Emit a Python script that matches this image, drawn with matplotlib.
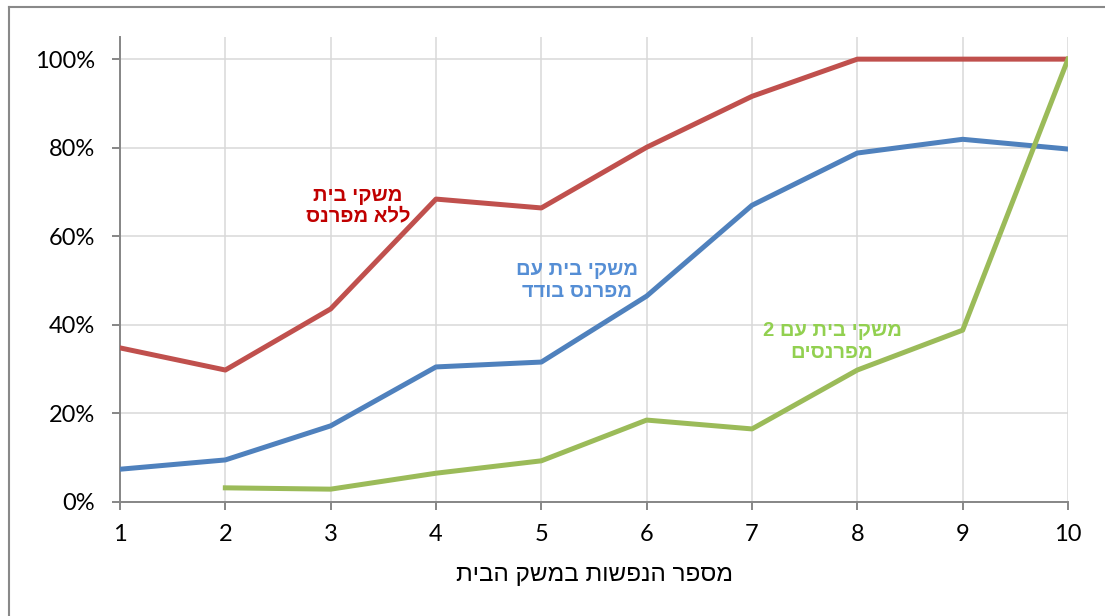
import numpy as np
import matplotlib
matplotlib.use("Agg")
import matplotlib.pyplot as plt
from matplotlib.lines import Line2D
from matplotlib.ticker import FuncFormatter

# ---- data ----
household_size = [1, 2, 3, 4, 5, 6, 7, 8, 9, 10]
no_earner = [34.8, 29.8, 43.6, 68.4, 66.4, 80.1, 91.6, 100, 100, 100]
single_earner = [7.4, 9.5, 17.2, 30.5, 31.6, 46.5, 67.0, 78.8, 81.9, 79.7]
two_earners = [np.nan, 3.2, 2.9, 6.5, 9.3, 18.5, 16.5, 29.8, 38.8, 100]
y_ticks = [0, 20, 40, 60, 80, 100]

label_no = ["משקי בית", "ללא מפרנס"]
label_single = ["משקי בית עם", "מפרנס בודד"]
label_two = ["משקי בית עם 2", "מפרנסים"]
x_title = "מספר הנפשות במשק הבית"


def vis(lines):
    # matplotlib has no bidi support: put Hebrew in visual order
    if isinstance(lines, str):
        lines = [lines]
    return "\n".join(l[::-1] for l in lines)


HEB = ["Liberation Sans", "DejaVu Sans"]
NUM = ["Lato", "DejaVu Sans"]

W, H = 1105, 616
fig = plt.figure(figsize=(W / 100, H / 100), dpi=100)
ax = fig.add_axes([120 / W, 1 - 502 / H, (1068 - 120) / W, (502 - 37) / H])

c_red = "#C0504D"
c_blue = "#4F81BD"
c_green = "#9BBB59"

ax.plot(household_size, no_earner, color=c_red, lw=3.6, solid_joinstyle="round", zorder=3)
ax.plot(household_size, single_earner, color=c_blue, lw=3.6, solid_joinstyle="round", zorder=3)
ax.plot(household_size, two_earners, color=c_green, lw=3.6, solid_joinstyle="round", zorder=3)

ax.set_xlim(1, 10)
ax.set_ylim(0, 105)
ax.set_xticks(household_size)
ax.set_yticks(y_ticks)
ax.yaxis.set_major_formatter(FuncFormatter(lambda v, p: f"{int(v)}%"))

ax.grid(True, color="#D9D9D9", lw=1.1, zorder=0)
ax.set_axisbelow(True)
for s in ["top", "right"]:
    ax.spines[s].set_visible(False)
for s in ["left", "bottom"]:
    ax.spines[s].set_color("#868686")
    ax.spines[s].set_linewidth(1.4)
ax.tick_params(axis="both", direction="out", length=6, width=1.4, color="#868686",
               labelsize=17, labelcolor="#000000")
ax.tick_params(axis="y", pad=12)
ax.tick_params(axis="x", pad=10)
for lab in ax.get_xticklabels() + ax.get_yticklabels():
    lab.set_family(NUM)

ax.text(3.26, 66.9, vis(label_no), color="#C00000", fontsize=14.5, fontweight="bold",
        family=HEB, ha="center", va="center", multialignment="center", linespacing=1.1)
ax.text(5.34, 50.1, vis(label_single), color="#558ED5", fontsize=14.5, fontweight="bold",
        family=HEB, ha="center", va="center", multialignment="center", linespacing=1.2)
ax.text(7.76, 36.3, vis(label_two), color="#92D050", fontsize=14.5, fontweight="bold",
        family=HEB, ha="center", va="center", multialignment="center", linespacing=1.2)

fig.text(594 / W, 1 - 575 / H, vis(x_title), fontsize=17.5, family=HEB,
         ha="center", va="center", color="#000000")

# outer chart-area border (left and top edges visible)
fig.add_artist(Line2D([9 / W, 9 / W], [0, 1 - 7 / H], transform=fig.transFigure,
                      color="#898989", lw=1.5))
fig.add_artist(Line2D([9 / W, 1], [1 - 7 / H, 1 - 7 / H], transform=fig.transFigure,
                      color="#898989", lw=1.5))

fig.savefig("out.png", dpi=100)
